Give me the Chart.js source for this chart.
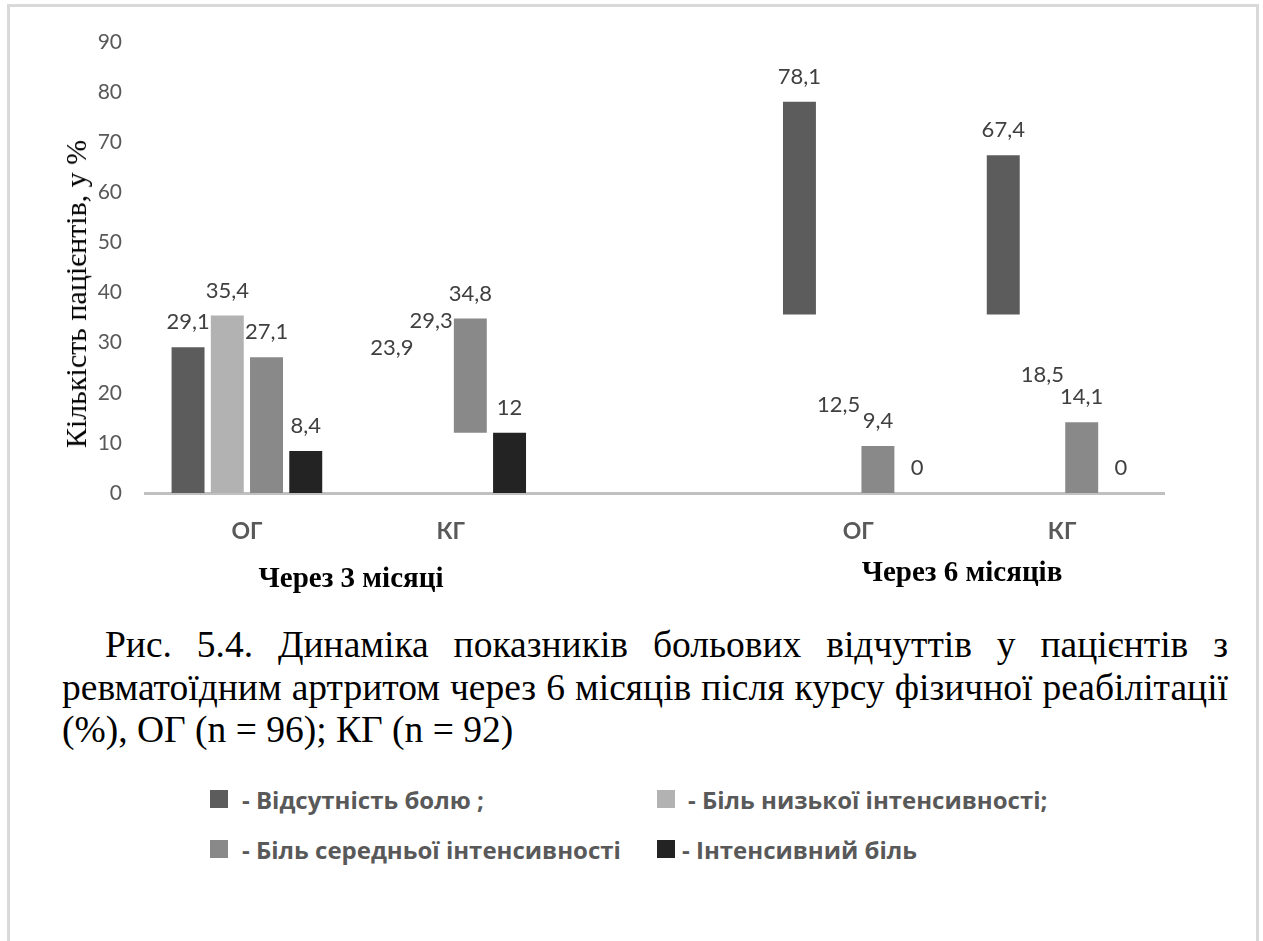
<!DOCTYPE html>
<html>
<head>
<meta charset="utf-8">
<script src="https://cdn.jsdelivr.net/npm/chart.js@4"></script>
<style>
  body { margin: 0; background: #fff; }
  #page { position: relative; width: 1263px; height: 941px; overflow: hidden; background: #fff; }
  #frame { position: absolute; left: 7px; top: 4px; width: 1252px; height: 1000px; border: 3px solid #d9d9d9; box-sizing: border-box; }
  #chart { position: absolute; left: 0; top: 0; }
  .serif { font-family: "Liberation Serif", "Times New Roman", "DejaVu Serif", serif; }
  .ytitle { position: absolute; left: 76px; top: 294px; transform: translate(-50%, -50%) rotate(-90deg);
            font-size: 30px; color: #000; white-space: nowrap; }
  .group { position: absolute; transform: translate(-50%, -50%); font-size: 29px; font-weight: bold; color: #000; white-space: nowrap; }
  .caption { position: absolute; left: 62px; top: 624px; width: 1166px; font-size: 37.5px; line-height: 42.5px; color: #000; }
  .caption div { white-space: nowrap; }
  .caption .just { text-align: justify; text-align-last: justify; }
  #legend { position: absolute; left: 210px; top: 787px; display: grid; grid-template-columns: 447px auto; row-gap: 26px;
            font: bold 24px "Open Sans"; color: #595959; }
  #legend .item { display: flex; align-items: center; height: 24px; white-space: pre; }
  #legend .box { width: 18px; height: 18px; flex: none; }
</style>
</head>
<body>
<div id="page">
  <div id="frame"></div>
  <canvas id="chart" width="1263" height="600"></canvas>
  <div class="ytitle serif">Кількість пацієнтів, у %</div>
  <div class="group serif" style="left:351px;top:577px">Через 3 місяці</div>
  <div class="group serif" style="left:962px;top:571px">Через 6 місяців</div>
  <div class="caption serif">
    <div class="just" style="text-indent:43px">Рис. 5.4. Динаміка показників больових відчуттів у пацієнтів з</div>
    <div class="just">ревматоїдним артритом через 6 місяців після курсу фізичної реабілітації</div>
    <div>(%), ОГ (n = 96); КГ (n = 92)</div>
  </div>
  <div id="legend"></div>
</div>
<script>
// categories (the empty one separates the 3- and 6-month groups)
const groups = ["ОГ", "КГ", "", "ОГ", "КГ"];
const seriesNames = ["- Відсутність болю ;", "- Біль низької інтенсивності;", "- Біль середньої інтенсивності", "- Інтенсивний біль"];

// values shown above the bars, %
const noPain     = [29.1, 23.9, null, 78.1, 67.4];
const lowPain    = [35.4, 29.3, null, 12.5, 18.5];
const mediumPain = [27.1, 34.8, null, 9.4, 14.1];
const strongPain = [8.4, 12, null, 0, 0];

// where the visible part of each bar starts (null = bar not drawn in the figure)
const noPainFrom     = [0, null, null, 35.6, 35.6];
const lowPainFrom    = [0, null, null, null, null];
const mediumPainFrom = [0, 12, null, 0, 0];
const strongPainFrom = [0, 0, null, 0, 0];

const yTicks = [0, 10, 20, 30, 40, 50, 60, 70, 80, 90];

const seriesValues = [noPain, lowPain, mediumPain, strongPain];
const seriesFrom = [noPainFrom, lowPainFrom, mediumPainFrom, strongPainFrom];
const colors = ["#5c5c5c", "#b2b2b2", "#898989", "#232323"];
const legendGaps = [14, 13, 14, 7];

Chart.defaults.font.family = "Lato";

function floating(vals, from) {
  return vals.map((v, i) => (v === null || from[i] === null) ? null : [from[i], v]);
}

const valueLabels = {
  id: "valueLabels",
  afterDatasetsDraw(chart) {
    const ctx = chart.ctx;
    const y = chart.scales.y;
    ctx.save();
    ctx.font = "22px Lato";
    ctx.fillStyle = "#404040";
    ctx.textAlign = "center";
    ctx.textBaseline = "middle";
    seriesValues.forEach((vals, i) => {
      const meta = chart.getDatasetMeta(i);
      vals.forEach((v, j) => {
        if (v === null) return;
        const bar = meta.data[j];
        ctx.fillText(String(v).replace(".", ","), bar.x, y.getPixelForValue(v) - 25);
      });
    });
    ctx.restore();
  }
};

new Chart(document.getElementById("chart"), {
  type: "bar",
  data: {
    labels: groups,
    datasets: seriesValues.map((vals, i) => ({
      label: seriesNames[i],
      data: floating(vals, seriesFrom[i]),
      backgroundColor: colors[i],
      borderSkipped: false,
      categoryPercentage: 0.77,
      barPercentage: 0.84
    }))
  },
  options: {
    responsive: false,
    animation: false,
    layout: { padding: { left: 0, top: 42, right: 99, bottom: 0 } },
    plugins: { legend: { display: false }, tooltip: { enabled: false } },
    scales: {
      x: {
        grid: { display: false, drawTicks: false },
        border: { color: "#c0c0c0", width: 3 },
        ticks: { color: "#595959", font: { size: 23, weight: "bold" }, padding: 25 },
        afterFit(scale) { scale.height = 107; }
      },
      y: {
        min: 0, max: 90,
        grid: { display: false, drawTicks: false },
        border: { display: false },
        afterBuildTicks(scale) { scale.ticks = yTicks.map(v => ({ value: v })); },
        ticks: { color: "#595959", font: { size: 21 }, padding: 23 },
        afterFit(scale) { scale.width = 145; }
      }
    }
  },
  plugins: [valueLabels]
});

const legend = document.getElementById("legend");
seriesNames.forEach((name, i) => {
  const item = document.createElement("div");
  item.className = "item";
  item.innerHTML = `<span class="box" style="background:${colors[i]};margin-right:${legendGaps[i]}px"></span><span>${name}</span>`;
  legend.appendChild(item);
});
</script>
</body>
</html>
